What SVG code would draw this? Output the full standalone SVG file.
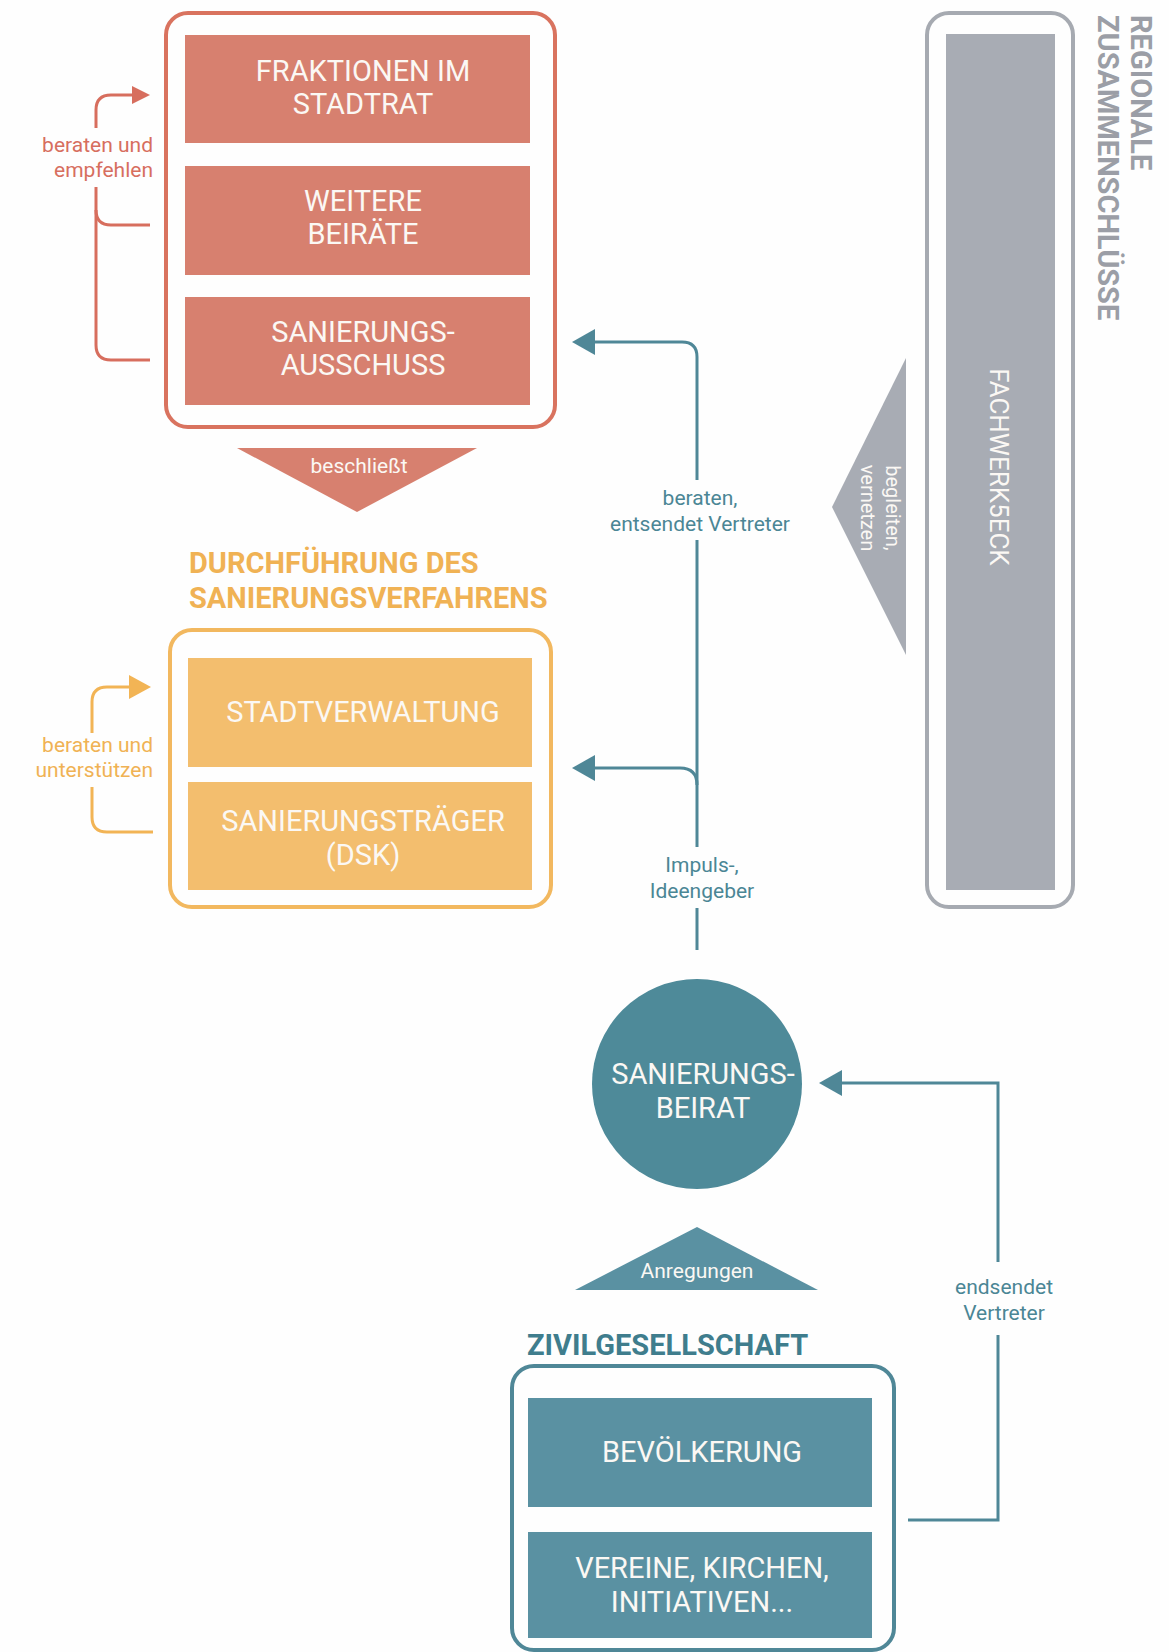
<svg xmlns="http://www.w3.org/2000/svg" width="1169" height="1652" viewBox="0 0 1169 1652">
<defs>
<style>
text{font-family:Roboto,"Liberation Sans",sans-serif}
.box{font-size:29px;fill:#fbf8f4;text-anchor:middle}
.head{font-size:29px;font-weight:bold}
.lbl{font-size:21px}
.red{fill:#d7806f}
.org{fill:#f3be6e}
.tea{fill:#5a91a2}
.gry{fill:#a8acb4}
.con{fill:none;stroke-width:3}
</style>
<marker id="ar" markerUnits="userSpaceOnUse" viewBox="0 0 18 18" markerWidth="18" markerHeight="18" refX="2" refY="9" orient="auto"><path d="M0,0 L18,9 L0,18 z" fill="#d76e5e"/></marker>
<marker id="ao" markerUnits="userSpaceOnUse" viewBox="0 0 22 24" markerWidth="22" markerHeight="24" refX="2" refY="12" orient="auto"><path d="M0,0 L22,12 L0,24 z" fill="#f2b455"/></marker>
<marker id="at" markerUnits="userSpaceOnUse" viewBox="0 0 23 26" markerWidth="23" markerHeight="26" refX="2" refY="13" orient="auto"><path d="M0,0 L23,13 L0,26 z" fill="#4f8797"/></marker>
</defs>
<rect width="1169" height="1652" fill="#fefefe"/>

<g id="stadtrat">
<rect x="166" y="13" width="389" height="414" rx="22" fill="none" stroke="#d9735f" stroke-width="4"/>
<rect class="red" x="185" y="35" width="345" height="108"/>
<text class="box" x="363" y="81">FRAKTIONEN IM</text>
<text class="box" x="363" y="114">STADTRAT</text>
<rect class="red" x="185" y="166" width="345" height="109"/>
<text class="box" x="363" y="211">WEITERE</text>
<text class="box" x="363" y="244">BEIRÄTE</text>
<rect class="red" x="185" y="297" width="345" height="108"/>
<text class="box" x="363" y="342">SANIERUNGS-</text>
<text class="box" x="363" y="375">AUSSCHUSS</text>
</g>

<g id="beschliesst">
<polygon class="red" points="237,448 477,448 357,512"/>
<text class="lbl" x="359" y="473" fill="#fbf8f4" text-anchor="middle" font-size="19">beschließt</text>
</g>

<g id="durchfuehrung">
<text class="head" x="189" y="573" fill="#f0b254">DURCHFÜHRUNG DES</text>
<text class="head" x="189" y="608" fill="#f0b254">SANIERUNGSVERFAHRENS</text>
<rect x="170" y="630" width="381" height="277" rx="22" fill="none" stroke="#f2b85f" stroke-width="4"/>
<rect class="org" x="188" y="658" width="344" height="109"/>
<text class="box" x="363" y="722">STADTVERWALTUNG</text>
<rect class="org" x="188" y="782" width="344" height="108"/>
<text class="box" x="363" y="831">SANIERUNGSTRÄGER</text>
<text class="box" x="363" y="865">(DSK)</text>
</g>

<g id="fachwerk">
<rect x="927" y="13" width="146" height="894" rx="22" fill="none" stroke="#a6aab1" stroke-width="4"/>
<rect class="gry" x="946" y="34" width="109" height="856"/>
<text transform="translate(990,467) rotate(90)" font-size="26" fill="#fbf8f4" text-anchor="middle">FACHWERK5ECK</text>
<polygon class="gry" points="906,358 832,507 906,655"/>
<text transform="translate(886,508) rotate(90)" font-size="20" fill="#fbf8f4" text-anchor="middle">begleiten,</text>
<text transform="translate(861,508) rotate(90)" font-size="20" fill="#fbf8f4" text-anchor="middle">vernetzen</text>
</g>

<g id="regionale">
<text class="head" transform="translate(1131,15) rotate(90)" fill="#9b9ea6">REGIONALE</text>
<text class="head" transform="translate(1098,15) rotate(90)" fill="#9b9ea6">ZUSAMMENSCHLÜSSE</text>
</g>

<g id="beirat">
<circle cx="697" cy="1084" r="105" fill="#4e8a99"/>
<text class="box" x="703" y="1084">SANIERUNGS-</text>
<text class="box" x="703" y="1118">BEIRAT</text>
</g>

<g id="anregungen">
<polygon class="tea" points="697,1227 818,1290 575,1290"/>
<text class="lbl" x="697" y="1278" fill="#fbf8f4" text-anchor="middle">Anregungen</text>
</g>

<g id="zivilgesellschaft">
<text class="head" x="527" y="1355" fill="#3f7d8d">ZIVILGESELLSCHAFT</text>
<rect x="512" y="1366" width="382" height="284" rx="22" fill="none" stroke="#4f8797" stroke-width="4"/>
<rect class="tea" x="528" y="1398" width="344" height="109"/>
<text class="box" x="702" y="1462">BEVÖLKERUNG</text>
<rect class="tea" x="528" y="1532" width="344" height="106"/>
<text class="box" x="702" y="1578">VEREINE, KIRCHEN,</text>
<text class="box" x="702" y="1612">INITIATIVEN...</text>
</g>

<g id="connectors">
<path class="con" stroke="#d76e5e" stroke-width="2.5" d="M96,128 V110 Q96,95 111,95 H134" marker-end="url(#ar)"/>
<path class="con" stroke="#d76e5e" stroke-width="2.5" d="M96,187 V345 Q96,360 111,360 H150"/>
<path class="con" stroke="#d76e5e" stroke-width="2.5" d="M96,210 Q96,225 111,225 H150"/>
<text class="lbl" x="153" y="152" fill="#d76e5e" text-anchor="end">beraten und</text>
<text class="lbl" x="153" y="177" fill="#d76e5e" text-anchor="end">empfehlen</text>

<path class="con" stroke="#f2b455" stroke-width="2.5" d="M92,733 V702 Q92,687 107,687 H131" marker-end="url(#ao)"/>
<path class="con" stroke="#f2b455" stroke-width="2.5" d="M92,787 V817 Q92,832 107,832 H153"/>
<text class="lbl" x="153" y="752" fill="#f0b254" text-anchor="end">beraten und</text>
<text class="lbl" x="153" y="777" fill="#f0b254" text-anchor="end">unterstützen</text>

<path class="con" stroke="#4f8797" d="M697,480 V357 Q697,342 682,342 H593" marker-end="url(#at)"/>
<path class="con" stroke="#4f8797" d="M697,540 V847"/>
<path class="con" stroke="#4f8797" d="M697,785 Q697,768 680,768 H593" marker-end="url(#at)"/>
<path class="con" stroke="#4f8797" d="M697,908 V950"/>
<text class="lbl" x="700" y="505" fill="#4b8695" text-anchor="middle">beraten,</text>
<text class="lbl" x="700" y="531" fill="#4b8695" text-anchor="middle">entsendet Vertreter</text>
<text class="lbl" x="702" y="872" fill="#4b8695" text-anchor="middle">Impuls-,</text>
<text class="lbl" x="702" y="898" fill="#4b8695" text-anchor="middle">Ideengeber</text>

<path class="con" stroke="#4f8797" d="M998,1262 V1083 H840" marker-end="url(#at)"/>
<path class="con" stroke="#4f8797" d="M908,1520 H998 V1335"/>
<text class="lbl" x="1004" y="1294" fill="#4b8695" text-anchor="middle">endsendet</text>
<text class="lbl" x="1004" y="1320" fill="#4b8695" text-anchor="middle">Vertreter</text>
</g>
</svg>
